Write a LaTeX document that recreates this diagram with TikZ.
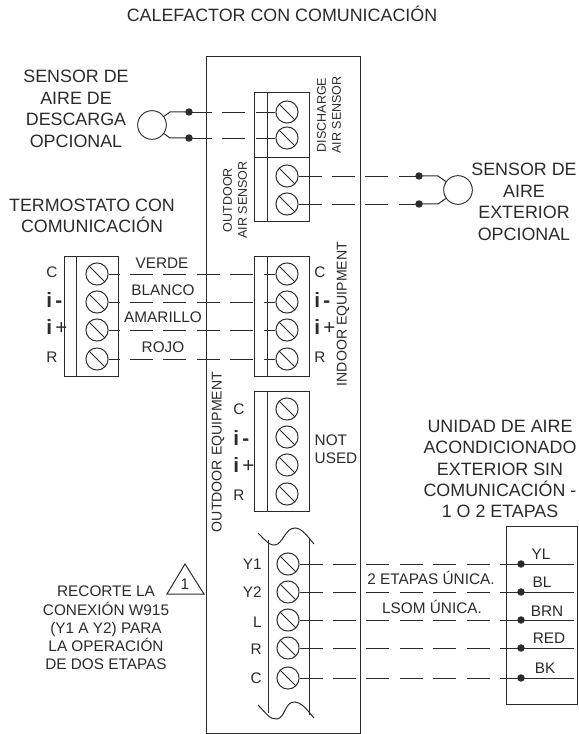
\documentclass[tikz,border=0pt]{standalone}
\usepackage{fontspec}
\setmainfont{Liberation Sans}
\usepackage{xcolor}
\usetikzlibrary{calc}
\definecolor{inkgray}{HTML}{2B2B2B}
\tikzset{
	screw/.style={circle,draw=inkgray,line width=0.75pt,inner sep=0pt,minimum size=16.6pt,
		path picture={\draw[inkgray,line width=0.75pt] (path picture bounding box.north west)--(path picture bounding box.south east);}},
	wire/.style={inkgray,line width=0.65pt,dash pattern=on 17.25pt off 7.8pt},
	wirelead/.style={wire,dash phase=9pt},
	solder/.style={circle,fill=inkgray,inner sep=0pt,minimum size=5.6pt},
	sensor/.style={circle,draw=inkgray,line width=0.7pt,inner sep=0pt,minimum size=21.5pt},
	bigtxt/.style={text=inkgray,align=center,inner sep=0pt,font=\fontsize{13.4}{16.1}\selectfont},
	midtxt/.style={text=inkgray,align=center,inner sep=0pt,font=\fontsize{11.5}{13.7}\selectfont},
	sidetxt/.style={text=inkgray,align=center,inner sep=0pt,rotate=90,font=\fontsize{10.6}{11.25}\selectfont},
	tinytxt/.style={text=inkgray,align=center,inner sep=0pt,rotate=90,font=\fontsize{9.4}{11.25}\selectfont},
	pin/.style={text=inkgray,anchor=west,inner sep=0pt,font=\fontsize{11.5}{13.7}\selectfont},
	pinbold/.style={text=inkgray,anchor=west,inner sep=0pt,font=\fontsize{15.5}{15.5}\selectfont},
	pinright/.style={text=inkgray,anchor=east,inner sep=0pt,font=\fontsize{11.5}{13.7}\selectfont},
	box/.style={draw=inkgray,line width=0.75pt}
}
\newcommand{\iminus}{\textbf{i}\,\textbf{-}}
\newcommand{\iplus}{\textbf{i}\,+}
\begin{document}
\begin{tikzpicture}[x=0.75pt,y=-0.75pt]
	\useasboundingbox (0,0) rectangle (578,734);
	\node[bigtxt] (title) at (282,14) {CALEFACTOR CON COMUNICACIÓN};
	\draw[box] (206,57) rectangle (360,733);
	\draw[box] (254,93) rectangle (309,221);
	\draw[box] (267,93)--(267,221);
	\draw[box] (254,158)--(309,158);
	\draw[box] (254,256) rectangle (309,376);
	\draw[box] (267,256)--(267,376);
	\draw[box] (254,391) rectangle (309,511);
	\draw[box] (267,391)--(267,511);
	\draw[box] (64,256) rectangle (118,376);
	\draw[box] (76,256)--(76,376);
	\draw[box] (506,526) rectangle (577,704);
	\draw[box] (268,540)--(268,713);
	\draw[box] (309,538)--(309,715);
	\draw[box] (258,533) .. controls (266,541) and (270,546) .. (275,545) .. controls (283,544) and (285,528) .. (295,528) .. controls (302,528) and (308,537) .. (314,544);
	\draw[box] (258,705) .. controls (266,713) and (270,720) .. (277,719) .. controls (285,718) and (285,702) .. (294,702) .. controls (302,702) and (308,711) .. (314,718);
	\foreach \n/\y in {dischA/112,dischB/138,outA/176,outB/204,inC/274,inM/302,inP/330,inR/359,nuC/409,nuM/437,nuP/465,nuR/494}
		\node[screw] (\n) at (287,\y) {};
	\foreach \n/\y in {thC/274,thM/302,thP/330,thR/359}
		\node[screw] (\n) at (97,\y) {};
	\foreach \n/\y in {oeY/564,oeZ/592,oeL/620,oeR/648,oeC/678}
		\node[screw] (\n) at (288,\y) {};
	\foreach \n/\y in {acY/564,acZ/592,acL/620,acR/648,acC/678}
		\node[solder] (\n) at (521,\y) {};
	\foreach \n/\y in {acYend/564,acZend/592,acLend/620,acRend/648,acCend/678}
		\coordinate (\n) at (574,\y);
	\node[sensor] (sensorD) at (152,125) {};
	\node[sensor] (sensorO) at (458,190) {};
	\node[solder] (dotDA) at (189,112) {};
	\node[solder] (dotDB) at (189,138) {};
	\node[solder] (dotOA) at (419,176) {};
	\node[solder] (dotOB) at (419,204) {};
	\coordinate (kinkDA) at (170,112);
	\coordinate (kinkDB) at (170,138);
	\coordinate (kinkOA) at (438,176);
	\coordinate (kinkOB) at (438,204);
	\draw[wire] (dotDA.center)--(dischA);
	\draw[wire] (dotDB.center)--(dischB);
	\draw[wire] (outA)--(dotOA.center);
	\draw[wire] (outB)--(dotOB.center);
	\draw[box] (dotDA.center)--(kinkDA)--(sensorD);
	\draw[box] (dotDB.center)--(kinkDB)--(sensorD);
	\draw[box] (dotOA.center)--(kinkOA)--(sensorO);
	\draw[box] (dotOB.center)--(kinkOB)--(sensorO);
	\draw[wirelead] (thC)--(inC);
	\draw[wirelead] (thM)--(inM);
	\draw[wirelead] (thP)--(inP);
	\draw[wirelead] (thR)--(inR);
	\draw[wire] (oeY)--(acY.center);
	\draw[wire] (oeZ)--(acZ.center);
	\draw[wire] (oeL)--(acL.center);
	\draw[wire] (oeR)--(acR.center);
	\draw[wire] (oeC)--(acC.center);
	\draw[box] (acY.center)--(acYend);
	\draw[box] (acZ.center)--(acZend);
	\draw[box] (acL.center)--(acLend);
	\draw[box] (acR.center)--(acRend);
	\draw[box] (acC.center)--(acCend);
	\node[bigtxt] (sensorDtxt) at (76,109) {SENSOR DE\\AIRE DE\\DESCARGA\\OPCIONAL};
	\node[bigtxt] (sensorOtxt) at (524,202) {SENSOR DE\\AIRE\\EXTERIOR\\OPCIONAL};
	\node[bigtxt] (thermotxt) at (92,216) {TERMOSTATO CON\\COMUNICACIÓN};
	\node[bigtxt] (unittxt) at (500,469) {UNIDAD DE AIRE\\ACONDICIONADO\\EXTERIOR SIN\\COMUNICACIÓN -\\1 O 2 ETAPAS};
	\node[tinytxt] (dischtxt) at (329,115) {DISCHARGE\\AIR SENSOR};
	\node[tinytxt] (outtxt) at (235,200) {OUTDOOR\\AIR SENSOR};
	\node[sidetxt] (indoortxt) at (343,314) {INDOOR EQUIPMENT};
	\node[sidetxt] (outdoortxt) at (218,452) {OUTDOOR EQUIPMENT};
	\node[midtxt] (verde) at (162,263) {VERDE};
	\node[midtxt] (blanco) at (163,290) {BLANCO};
	\node[midtxt] (amarillo) at (163,317) {AMARILLO};
	\node[midtxt] (rojo) at (163,347) {ROJO};
	\node[pin] (thCtxt) at (46,272) {C};
	\node[pinbold] (thMtxt) at (46,300) {\iminus};
	\node[pinbold] (thPtxt) at (46,327) {\iplus};
	\node[pin] (thRtxt) at (46,357) {R};
	\node[pin] (inCtxt) at (314,272) {C};
	\node[pinbold] (inMtxt) at (314,300) {\iminus};
	\node[pinbold] (inPtxt) at (314,327) {\iplus};
	\node[pin] (inRtxt) at (314,357) {R};
	\node[pin] (nuCtxt) at (233,409) {C};
	\node[pinbold] (nuMtxt) at (233,438) {\iminus};
	\node[pinbold] (nuPtxt) at (233,465) {\iplus};
	\node[pin] (nuRtxt) at (233,495) {R};
	\node[midtxt,align=left] (notused) at (336,449) {NOT\\USED};
	\node[pinright] (oeYtxt) at (262,564) {Y1};
	\node[pinright] (oeZtxt) at (262,592) {Y2};
	\node[pinright] (oeLtxt) at (262,622) {L};
	\node[pinright] (oeRtxt) at (262,649) {R};
	\node[pinright] (oeCtxt) at (262,678) {C};
	\node[midtxt] (etapas) at (431,578) {2 ETAPAS ÚNICA.};
	\node[midtxt] (lsom) at (432,607) {LSOM ÚNICA.};
	\node[midtxt] (ylt) at (541,554) {YL};
	\node[midtxt] (blt) at (542,582) {BL};
	\node[midtxt] (brnt) at (547,611) {BRN};
	\node[midtxt] (redt) at (549,638) {RED};
	\node[midtxt] (bkt) at (545,668) {BK};
	\node[midtxt] (recorte) at (106,628) {RECORTE LA\\CONEXIÓN W915\\(Y1 A Y2) PARA\\LA OPERACIÓN\\DE DOS ETAPAS};
	\draw[box] (185,564)--(204,594)--(167,594)--cycle;
	\node[midtxt] (trione) at (185,584) {1};
\end{tikzpicture}
\end{document}
